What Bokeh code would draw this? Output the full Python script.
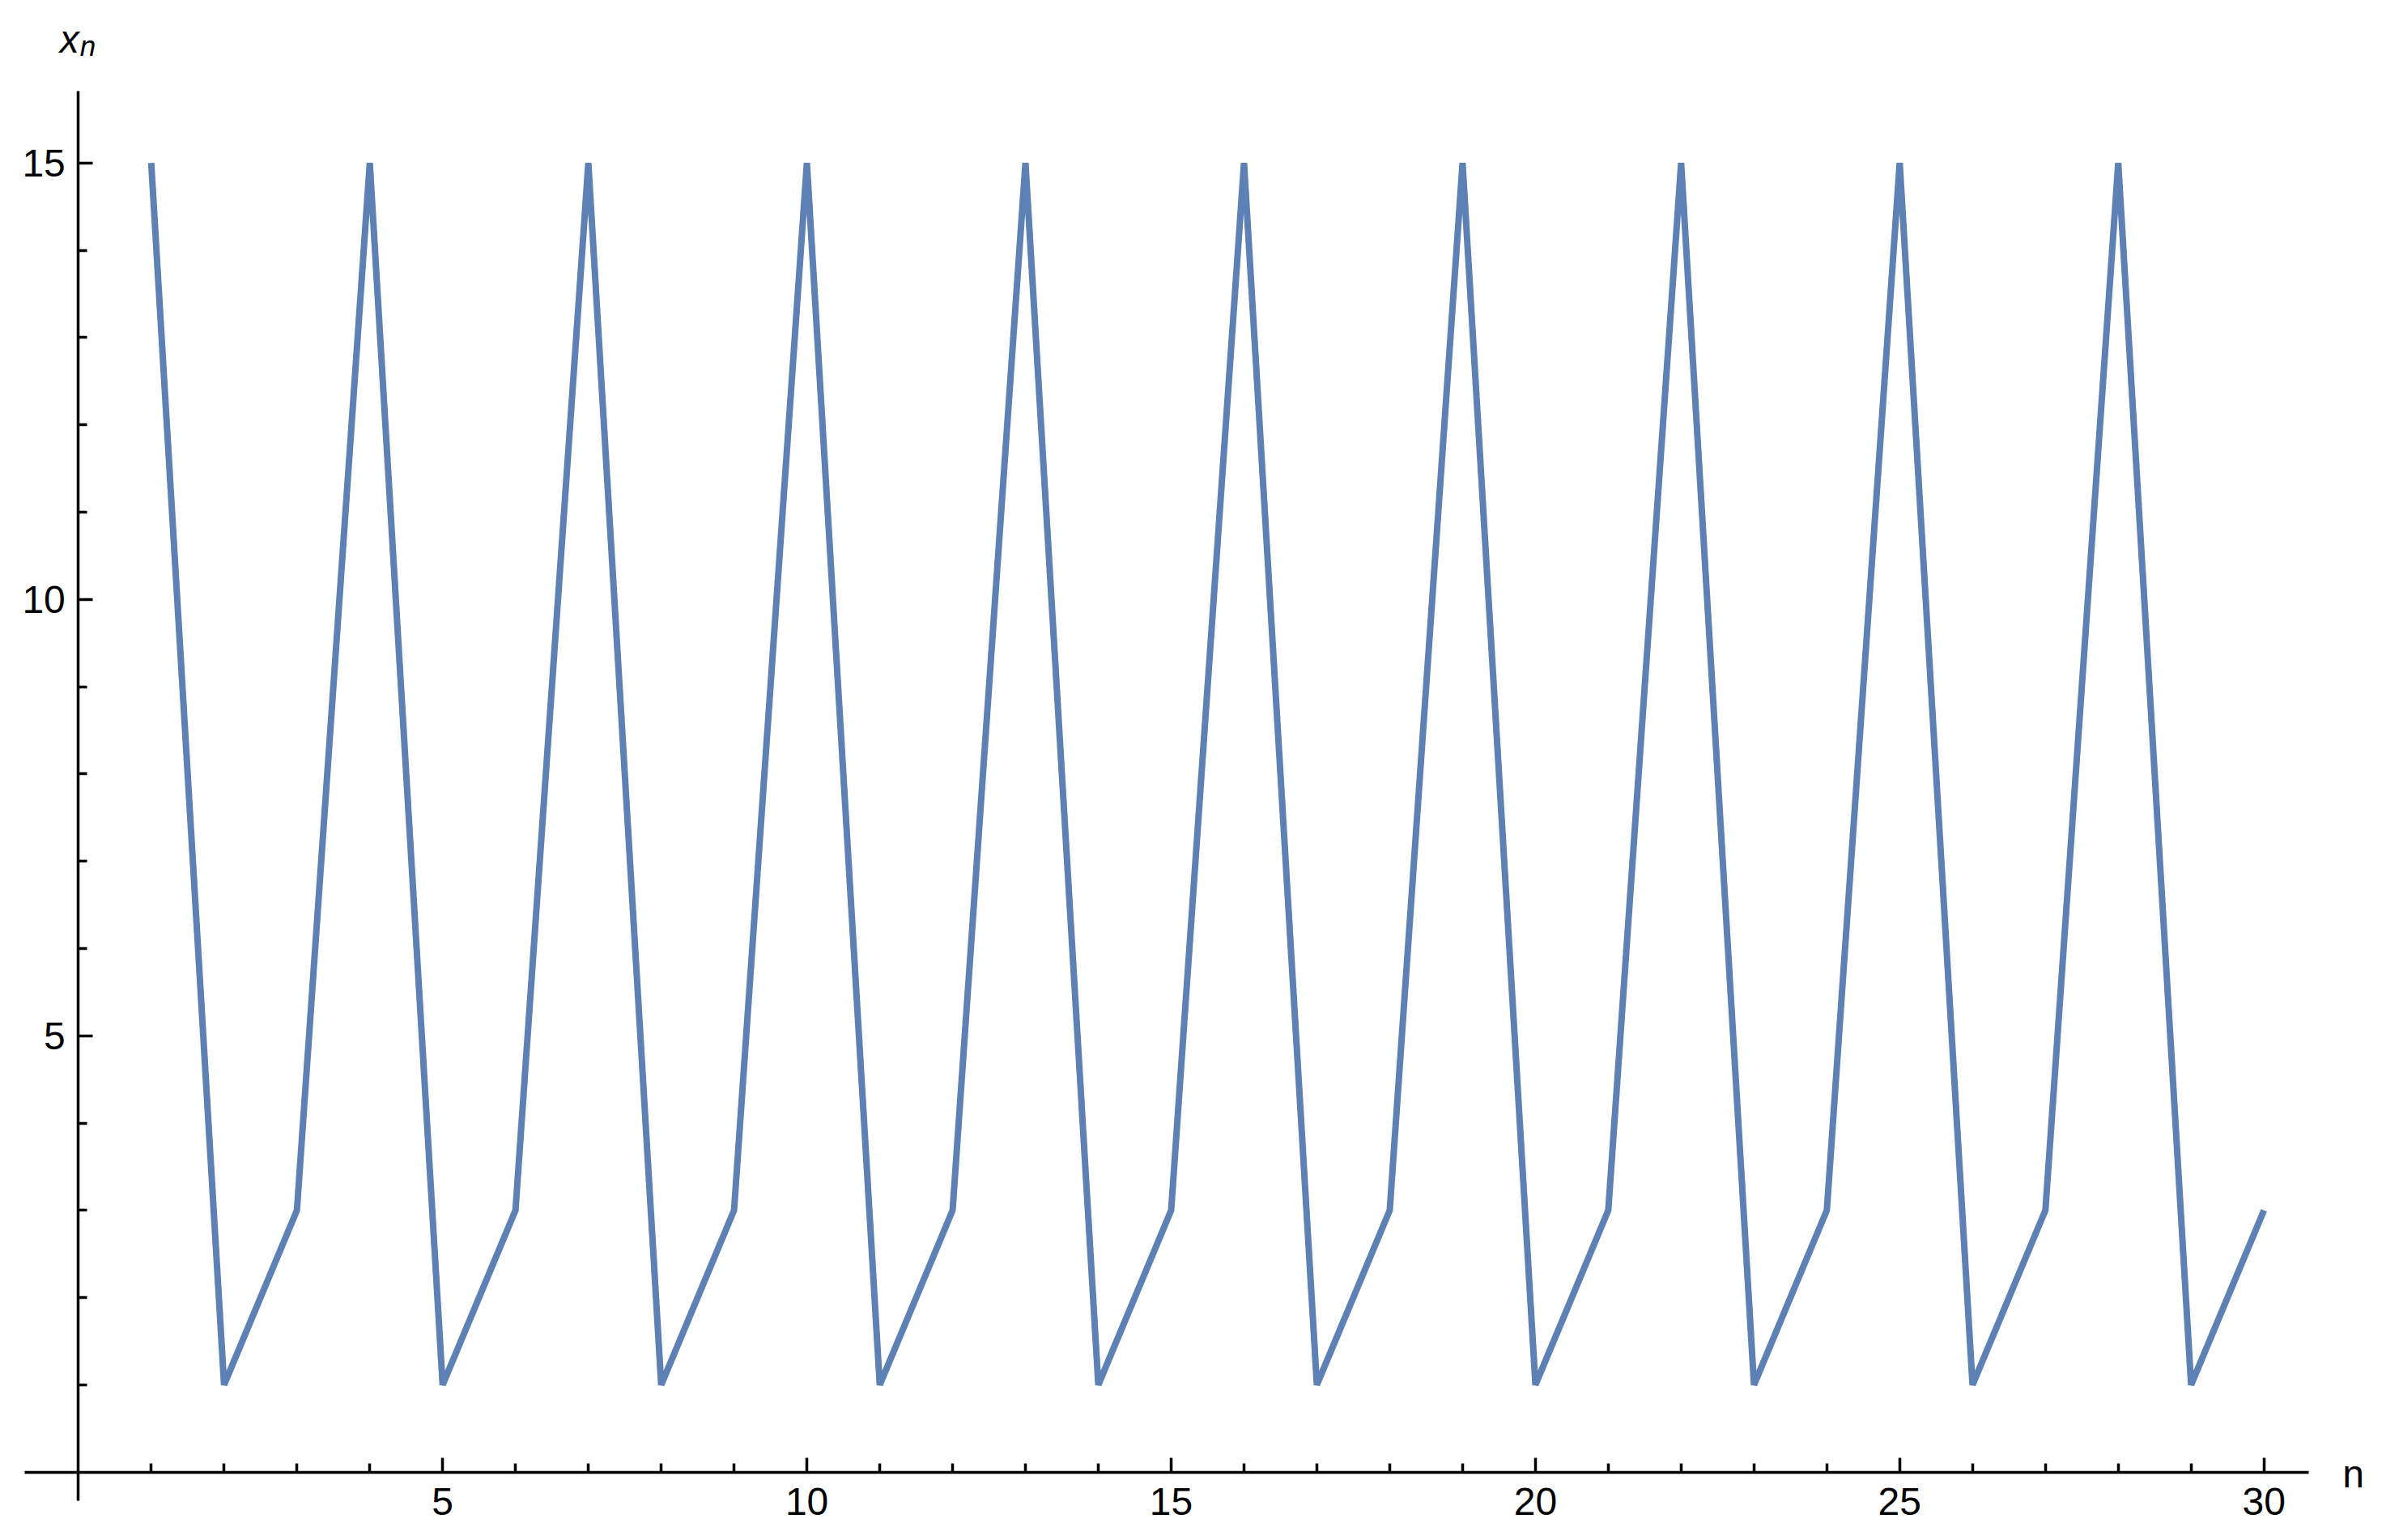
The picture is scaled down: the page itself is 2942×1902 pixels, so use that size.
from bokeh.plotting import figure
from bokeh.models import FixedTicker, Label, Range1d
from bokeh.embed import file_html
from bokeh.resources import INLINE

n_values = list(range(1, 31))
x_values = [15, 1, 3, 15, 1, 3, 15, 1, 3, 15, 1, 3, 15, 1, 3,
            15, 1, 3, 15, 1, 3, 15, 1, 3, 15, 1, 3, 15, 1, 3]
x_major_ticks = [5, 10, 15, 20, 25, 30]
x_minor_ticks = [i for i in range(1, 31) if i % 5 != 0]
y_major_ticks = [5, 10, 15]
y_minor_ticks = [i for i in range(1, 16) if i % 5 != 0]

FONT = "Liberation Sans"
W, H = 2942, 1902
X0, XS = 96.3, 89.98      # page px of n=0, px per unit
Y0, YS = 1817.7, 107.8    # page px of x=0, px per unit

x_lo, x_hi = (0 - X0) / XS, (W - X0) / XS
y_lo, y_hi = -(H - Y0) / YS, Y0 / YS

p = figure(width=W, height=H,
           x_range=Range1d(x_lo, x_hi), y_range=Range1d(y_lo, y_hi),
           output_backend="svg", toolbar_location=None,
           min_border_left=0, min_border_top=0, min_border_right=0, min_border_bottom=0,
           background_fill_color="white", border_fill_color="white")
p.outline_line_color = None
p.grid.visible = False

p.xaxis.fixed_location = 0
p.yaxis.fixed_location = 0
p.xaxis.bounds = (-0.733, 30.62)
p.yaxis.bounds = (-0.33, 15.82)
p.xaxis.ticker = FixedTicker(ticks=x_major_ticks, minor_ticks=x_minor_ticks)
p.yaxis.ticker = FixedTicker(ticks=y_major_ticks, minor_ticks=y_minor_ticks)
for ax in (p.xaxis, p.yaxis):
    ax.axis_line_width = 3.5
    ax.axis_line_color = "black"
    ax.major_tick_line_width = 3.5
    ax.minor_tick_line_width = 3.5
    ax.major_tick_line_color = "black"
    ax.minor_tick_line_color = "black"
    ax.major_tick_in = 18
    ax.major_tick_out = 0
    ax.minor_tick_in = 11
    ax.minor_tick_out = 0
    ax.major_label_text_font = FONT
    ax.major_label_text_font_size = "48px"
    ax.major_label_text_color = "black"
p.xaxis.major_label_standoff = 20
p.yaxis.major_label_standoff = 16

p.line(n_values, x_values, line_width=8, color="#5E81B5",
       line_join="bevel", line_cap="butt")

p.add_layout(Label(x=0, y=15.82, x_offset=-23, y_offset=64, text="x",
                   text_font=FONT, text_font_style="italic", text_font_size="48px",
                   text_baseline="alphabetic", text_align="left", text_color="black"))
p.add_layout(Label(x=0, y=15.82, x_offset=2, y_offset=56, text="n",
                   text_font=FONT, text_font_style="italic", text_font_size="35px",
                   text_baseline="alphabetic", text_align="left", text_color="black"))
p.add_layout(Label(x=30, y=0, x_offset=97, y_offset=-2, text="n",
                   text_font=FONT, text_font_size="48px",
                   text_baseline="alphabetic", text_align="left", text_color="black"))

open("out.html", "w").write(file_html(p, INLINE))
